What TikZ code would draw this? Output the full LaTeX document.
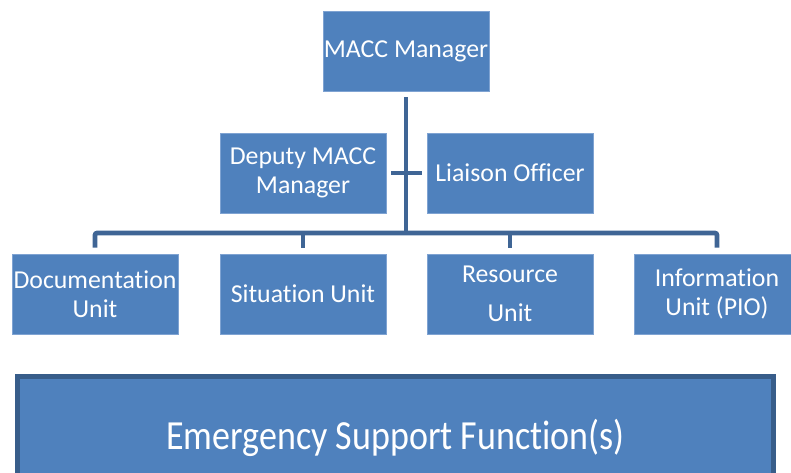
\documentclass[tikz,border=0pt]{standalone}
\usepackage{graphicx}
\usepackage{fontspec}
\setmainfont{Carlito}[Ligatures={NoCommon,NoRequired,NoContextual}]
\newcommand{\brk}{\kern0pt{}}
\definecolor{boxblue}{HTML}{4F81BD}
\definecolor{boxedge}{HTML}{7FA3D2}
\definecolor{connblue}{HTML}{3F6595}
\definecolor{esfedge}{HTML}{385D8A}
\tikzset{
  unitbox/.style={rectangle, fill=boxblue, draw=boxedge, line width=0.8pt,
    minimum width=166pt, minimum height=80pt, inner sep=0pt, text=white,
    align=center, font=\fontsize{25.8}{29}\selectfont},
  conn/.style={draw=connblue, line width=4.6pt},
  esfbox/.style={rectangle, fill=boxblue, draw=esfedge, line width=4.6pt,
    minimum width=756pt, minimum height=123pt, inner sep=0pt, text=white,
    font=\fontsize{36}{40}\selectfont}
}
\begin{document}
\begin{tikzpicture}[x=1pt,y=-1pt]
\useasboundingbox (0,0) rectangle (791,472);
\clip (0,0) rectangle (791,472);
\node[unitbox] (macc) at (406,51) {MACC Manager};
\node[unitbox] (deputy) at (303,173) {Deputy MACC\\Manager};
\node[unitbox] (liaison) at (510,173) {Liaison Officer};
\node[unitbox] (doc) at (95,294) {Documentat\brk ion\\Unit};
\node[unitbox] (sit) at (303,294) {Situat\brk ion Unit};
\node[unitbox] (res) at (510,294) {Resource\\[10pt]Unit};
\node[unitbox] (info) at (717,294) {Informat\brk ion\\Unit (PIO)};
\node[esfbox] (esf) at (395.5,438) {\scalebox{1}[1.15]{Emergency Support Funct\brk ion(s)}};
\coordinate (bus) at (406,233);
\draw[conn] ([yshift=-6pt]macc.south) -- (macc.south |- bus);
\draw[conn, shorten <=5pt, shorten >=5pt] (deputy) -- (liaison);
\draw[conn, rounded corners=2pt] ([yshift=6pt]doc.north) -- (doc.north |- bus) -- (info.north |- bus) -- ([yshift=6pt]info.north);
\draw[conn] ([yshift=6pt]sit.north) -- (sit.north |- bus);
\draw[conn] ([yshift=6pt]res.north) -- (res.north |- bus);
\end{tikzpicture}
\end{document}
